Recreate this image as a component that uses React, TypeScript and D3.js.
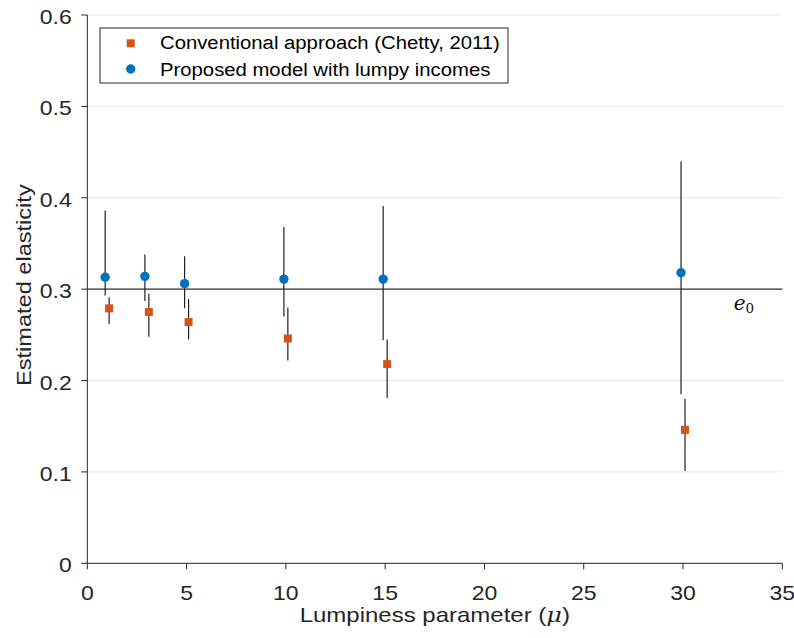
import React from "react";
import * as d3 from "d3";

const muValues = [1, 3, 5, 10, 15, 30];
const proposedX = [0.9, 2.9, 4.9, 9.9, 14.9, 29.9];
const proposedY = [0.313, 0.314, 0.306, 0.311, 0.311, 0.318];
const proposedLow = [0.293, 0.287, 0.279, 0.27, 0.244, 0.185];
const proposedHigh = [0.386, 0.338, 0.336, 0.368, 0.391, 0.44];

const conventionalX = [1.1, 3.1, 5.1, 10.1, 15.1, 30.1];
const conventionalY = [0.279, 0.275, 0.264, 0.246, 0.218, 0.146];
const conventionalLow = [0.262, 0.248, 0.245, 0.222, 0.181, 0.101];
const conventionalHigh = [0.291, 0.295, 0.289, 0.28, 0.245, 0.18];

const xTicks = [0, 5, 10, 15, 20, 25, 30, 35];
const yTicks = [0, 0.1, 0.2, 0.3, 0.4, 0.5, 0.6];
const trueElasticity = 0.3;

const seriesLabels = [
  "Conventional approach (Chetty, 2011)",
  "Proposed model with lumpy incomes",
];

const BLUE = "#0072BD";
const ORANGE = "#D95319";
const FONT = "'Liberation Sans', Arial, Helvetica, sans-serif";
const SERIF = "'DejaVu Serif', 'Liberation Serif', serif";

function SText({
  x,
  y,
  sx,
  anchor,
  size,
  fill,
  children,
  rotate = 0,
  dy,
}: any) {
  return (
    <g transform={`translate(${x},${y}) rotate(${rotate}) scale(${sx},1)`}>
      <text x={0} y={0} dy={dy} textAnchor={anchor} fontSize={size} fill={fill}>
        {children}
      </text>
    </g>
  );
}

export default function App() {
  const W = 794;
  const H = 638;
  const left = 87.3;
  const right = 782.3;
  const top = 15;
  const bottom = 563.3;
  const x = d3.scaleLinear().domain([0, 35]).range([left, right]);
  const y = d3.scaleLinear().domain([0, 0.6]).range([bottom, top]);
  const axisColor = "#262626";

  return (
    <svg
      width={W}
      height={H}
      style={{ position: "absolute", left: 0, top: 0, background: "#fff" }}
      fontFamily={FONT}
    >
      {/* grid */}
      {yTicks.map((t) => (
        <line
          key={"g" + t}
          x1={left}
          x2={right}
          y1={y(t)}
          y2={y(t)}
          stroke="#e6e6e6"
          strokeWidth={1}
        />
      ))}
      {/* reference line */}
      <line
        x1={left}
        x2={right}
        y1={y(trueElasticity)}
        y2={y(trueElasticity)}
        stroke="#333"
        strokeWidth={1.3}
      />
      <text
        x={x(32.55)}
        y={y(trueElasticity) + 21}
        fontFamily={SERIF}
        fontStyle="italic"
        fontSize={20}
        fill="#111"
      >
        e
        <tspan dy={2.5} fontSize={13.5} fontStyle="normal">
          0
        </tspan>
      </text>

      {/* error bars */}
      {proposedX.map((v, i) => (
        <line
          key={"pe" + i}
          x1={x(v)}
          x2={x(v)}
          y1={y(proposedLow[i])}
          y2={y(proposedHigh[i])}
          stroke="#222"
          strokeWidth={1.2}
        />
      ))}
      {conventionalX.map((v, i) => (
        <line
          key={"ce" + i}
          x1={x(v)}
          x2={x(v)}
          y1={y(conventionalLow[i])}
          y2={y(conventionalHigh[i])}
          stroke="#222"
          strokeWidth={1.2}
        />
      ))}
      {/* markers */}
      {conventionalX.map((v, i) => (
        <rect
          key={"cm" + i}
          x={x(v) - 4}
          y={y(conventionalY[i]) - 4}
          width={8}
          height={8}
          fill={ORANGE}
        />
      ))}
      {proposedX.map((v, i) => (
        <circle
          key={"pm" + i}
          cx={x(v)}
          cy={y(proposedY[i])}
          r={4.7}
          fill={BLUE}
        />
      ))}

      {/* axes */}
      <line x1={left} x2={left} y1={top} y2={bottom} stroke={axisColor} strokeWidth={1} />
      <line x1={left} x2={right} y1={bottom} y2={bottom} stroke={axisColor} strokeWidth={1} />
      {yTicks.map((t) => (
        <g key={"yt" + t}>
          <line x1={left - 6} x2={left} y1={y(t)} y2={y(t)} stroke={axisColor} strokeWidth={1} />
          <SText
            x={71.7}
            y={y(t) + 2}
            dy="0.35em"
            sx={1.15}
            anchor="end"
            size={20}
            fill={axisColor}
          >
            {t === 0 ? "0" : t.toFixed(1)}
          </SText>
        </g>
      ))}
      {xTicks.map((t) => (
        <g key={"xt" + t}>
          <line x1={x(t)} x2={x(t)} y1={bottom} y2={bottom + 6} stroke={axisColor} strokeWidth={1} />
          <SText x={x(t)} y={600} sx={1.15} anchor="middle" size={20} fill={axisColor}>
            {t}
          </SText>
        </g>
      ))}
      <SText
        x={(left + right) / 2}
        y={622}
        sx={1.2}
        anchor="middle"
        size={20}
        fill={axisColor}
      >
        Lumpiness parameter (
        <tspan fontFamily={SERIF} fontStyle="italic">
          μ
        </tspan>
        )
      </SText>
      <SText
        x={31}
        y={(top + bottom) / 2 - 4}
        rotate={-90}
        sx={1.15}
        anchor="middle"
        size={20.5}
        fill={axisColor}
      >
        Estimated elasticity
      </SText>

      {/* legend */}
      <rect x={100} y={28} width={408} height={55} fill="#fff" stroke={axisColor} strokeWidth={1} />
      <rect x={126.7} y={39.3} width={8} height={8} fill={ORANGE} />
      <circle cx={130.7} cy={69} r={4.7} fill={BLUE} />
      <SText x={160} y={49.3} sx={1.08} anchor="start" size={18.8} fill="#000">
        {seriesLabels[0]}
      </SText>
      <SText x={160} y={75.7} sx={1.08} anchor="start" size={18.8} fill="#000">
        {seriesLabels[1]}
      </SText>
    </svg>
  );
}
